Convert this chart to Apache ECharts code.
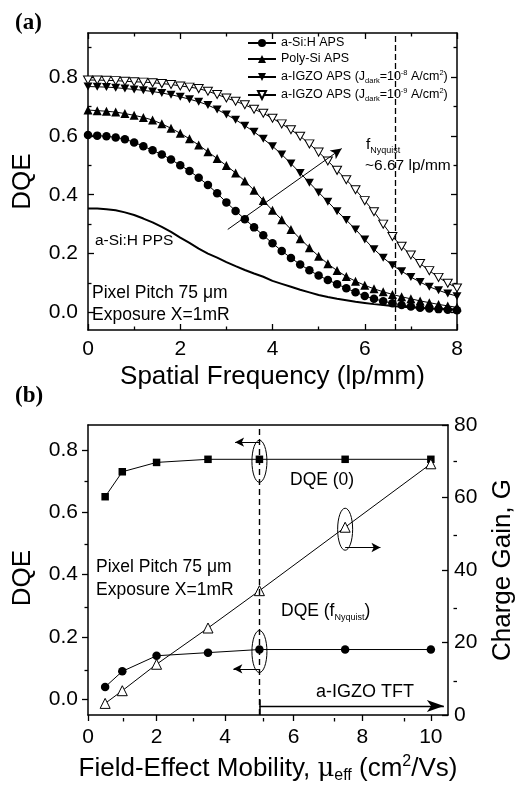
<!DOCTYPE html>
<html>
<head>
<meta charset="utf-8">
<script src="https://cdn.jsdelivr.net/npm/echarts@6/dist/echarts.min.js"></script>
<style>
  html, body { margin: 0; padding: 0; background: #fff; }
  #chart { width: 524px; height: 785px; }
</style>
</head>
<body>
<div id="chart"></div>
<script>
// (a) DQE vs spatial frequency, one marker every 0.2 lp/mm
var freq = [0, 0.2, 0.4, 0.6, 0.8, 1, 1.2, 1.4, 1.6, 1.8, 2, 2.2, 2.4, 2.6, 2.8, 3, 3.2, 3.4, 3.6, 3.8,
  4, 4.2, 4.4, 4.6, 4.8, 5, 5.2, 5.4, 5.6, 5.8, 6, 6.2, 6.4, 6.6, 6.8, 7, 7.2, 7.4, 7.6, 7.8, 8];
var aSiAps = [0.603, 0.601, 0.599, 0.595, 0.589, 0.578, 0.565, 0.551, 0.537, 0.520, 0.500, 0.481, 0.458, 0.433,
  0.405, 0.374, 0.345, 0.317, 0.289, 0.262, 0.235, 0.209, 0.185, 0.163, 0.143, 0.125, 0.110, 0.096, 0.082,
  0.068, 0.056, 0.046, 0.038, 0.031, 0.025, 0.020, 0.016, 0.013, 0.011, 0.009, 0.007];
var polySiAps = [0.688, 0.686, 0.684, 0.681, 0.676, 0.670, 0.663, 0.654, 0.641, 0.626, 0.609, 0.590, 0.569, 0.546,
  0.523, 0.499, 0.474, 0.447, 0.415, 0.380, 0.347, 0.315, 0.282, 0.250, 0.220, 0.191, 0.165, 0.142, 0.122,
  0.106, 0.092, 0.080, 0.070, 0.061, 0.053, 0.046, 0.039, 0.033, 0.027, 0.022, 0.017];
var igzoAps8 = [0.768, 0.767, 0.766, 0.764, 0.761, 0.758, 0.755, 0.751, 0.746, 0.740, 0.733, 0.725, 0.716, 0.705,
  0.690, 0.673, 0.655, 0.635, 0.614, 0.590, 0.565, 0.537, 0.506, 0.474, 0.441, 0.408, 0.376, 0.344, 0.314,
  0.282, 0.248, 0.215, 0.186, 0.160, 0.140, 0.120, 0.103, 0.087, 0.075, 0.064, 0.055];
var igzoAps9 = [0.790, 0.790, 0.789, 0.788, 0.786, 0.784, 0.783, 0.781, 0.778, 0.775, 0.770, 0.766, 0.761, 0.752,
  0.741, 0.729, 0.718, 0.706, 0.691, 0.677, 0.660, 0.641, 0.621, 0.599, 0.573, 0.545, 0.515, 0.483, 0.451,
  0.417, 0.380, 0.342, 0.300, 0.258, 0.225, 0.195, 0.166, 0.142, 0.119, 0.099, 0.083];
var aSiPps = [0.353, 0.353, 0.351, 0.347, 0.340, 0.331, 0.319, 0.306, 0.291, 0.274, 0.254, 0.236, 0.217, 0.200,
  0.186, 0.171, 0.157, 0.144, 0.132, 0.121, 0.107, 0.097, 0.087, 0.077, 0.068, 0.059, 0.052, 0.046, 0.041,
  0.036, 0.032, 0.028, 0.025, 0.022, 0.019, 0.017, 0.015, 0.013, 0.012, 0.011, 0.010];

// (b) DQE and charge gain vs mobility
var mobility = [0.5, 1, 2, 3.5, 5, 7.5, 10];
var dqeZero = [0.65, 0.73, 0.76, 0.77, 0.77, 0.77, 0.77];
var dqeNyq = [0.04, 0.09, 0.14, 0.15, 0.16, 0.16, 0.16];
var chargeGain = [3.2, 6.7, 14, 24, 34.3, 51.8, 69.3];

// tick lists
var xTicksA = [0, 2, 4, 6, 8];
var xMinorA = [1, 3, 5, 7];
var yTicksA = [0, 0.2, 0.4, 0.6, 0.8];
var yMinorA = [0.1, 0.3, 0.5, 0.7, 0.9];
var xTicksB = [0, 2, 4, 6, 8, 10];
var xMinorB = [1, 3, 5, 7, 9];
var yTicksB = [0, 0.2, 0.4, 0.6, 0.8];
var yMinorB = [0.1, 0.3, 0.5, 0.7];
var gainTicks = [0, 20, 40, 60, 80];
var gainMinor = [10, 30, 50, 70];

var FONT = 'Liberation Sans';
var BLACK = '#000';
var downTri = 'path://M0,0L10,0L5,9Z';

function pairs(xs, ys) {
  return xs.map(function (x, i) { return [x, ys[i]]; });
}

// one axis; opts: grid, pos, min, max, ticks, len, inside, labels, line
function axis(o) {
  return {
    type: 'value', gridIndex: o.grid, position: o.pos, min: o.min, max: o.max,
    axisLine: { show: o.line !== false, onZero: false, lineStyle: { color: BLACK, width: 1.5 } },
    axisTick: { show: !!o.ticks, inside: o.inside, length: o.len || 6, customValues: o.ticks,
      lineStyle: { color: BLACK, width: 1.3 } },
    axisLabel: { show: !!o.labels, customValues: o.labels, margin: o.margin || 8, color: BLACK,
      fontSize: 21, fontFamily: FONT, formatter: o.fmt },
    splitLine: { show: false },
    name: o.name, nameLocation: 'middle', nameGap: o.nameGap, nameRotate: o.nameRotate,
    nameTextStyle: o.nameStyle || { color: BLACK, fontSize: 26, fontFamily: FONT, padding: o.namePad || 0 }
  };
}

var fmt1 = function (v) { return v.toFixed(1); };

var xAxes = [
  axis({ grid: 0, pos: 'bottom', min: 0, max: 8, ticks: xTicksA, inside: true, labels: xTicksA, margin: 9,
    name: 'Spatial Frequency (lp/mm)', nameGap: 34 }),
  axis({ grid: 0, pos: 'top', min: 0, max: 8, ticks: xTicksA, inside: true }),
  axis({ grid: 1, pos: 'bottom', min: 0, max: 8, ticks: xMinorA, inside: true, len: 3.5, line: false }),
  axis({ grid: 1, pos: 'top', min: 0, max: 8, ticks: xMinorA, inside: true, len: 3.5, line: false }),
  axis({ grid: 2, pos: 'bottom', min: 0, max: 10.5, ticks: xTicksB, inside: false, labels: xTicksB, margin: 12,
    name: 'Field-Effect Mobility, {mu|μ}{sub|eff} (cm{sup|2}/Vs)', nameGap: 39,
    nameStyle: { color: BLACK, fontSize: 26, fontFamily: FONT, lineHeight: 30,
      rich: {
        mu: { fontSize: 26, fontFamily: 'DejaVu Serif', lineHeight: 30 },
        sub: { fontSize: 16, fontFamily: FONT, verticalAlign: 'bottom', lineHeight: 16 },
        sup: { fontSize: 16, fontFamily: FONT, verticalAlign: 'top', lineHeight: 16 }
      } } }),
  axis({ grid: 2, pos: 'top', min: 0, max: 10.5 }),
  axis({ grid: 3, pos: 'bottom', min: 0, max: 10.5, ticks: xMinorB, inside: false, len: 3.5, line: false })
];

var yAxes = [
  axis({ grid: 0, pos: 'left', min: -0.06, max: 0.95, ticks: yTicksA, inside: true, labels: yTicksA, fmt: fmt1,
    margin: 10, name: 'DQE', nameGap: 52, nameRotate: 90 }),
  axis({ grid: 0, pos: 'right', min: -0.06, max: 0.95, ticks: yTicksA, inside: true }),
  axis({ grid: 1, pos: 'left', min: -0.06, max: 0.95, ticks: yMinorA, inside: true, len: 3.5, line: false }),
  axis({ grid: 1, pos: 'right', min: -0.06, max: 0.95, ticks: yMinorA, inside: true, len: 3.5, line: false }),
  axis({ grid: 2, pos: 'left', min: -0.05, max: 0.88, ticks: yTicksB, inside: false, labels: yTicksB, fmt: fmt1,
    margin: 10, name: 'DQE', nameGap: 52, nameRotate: 90, namePad: [0, 16, 0, 0] }),
  axis({ grid: 2, pos: 'right', min: 0, max: 80, ticks: gainTicks, inside: true, labels: gainTicks,
    margin: 6, name: 'Charge Gain, G', nameGap: 42, nameRotate: 90 }),
  axis({ grid: 3, pos: 'left', min: -0.05, max: 0.88, ticks: yMinorB, inside: false, len: 3.5, line: false }),
  axis({ grid: 3, pos: 'right', min: 0, max: 80, ticks: gainMinor, inside: true, len: 3.5, line: false })
];

function lineSeries(name, data, symbol, size, fill, extra) {
  var s = {
    name: name, type: 'line', data: data, symbol: symbol, symbolSize: size,
    xAxisIndex: 0, yAxisIndex: 0, animation: false, silent: true,
    lineStyle: { color: BLACK, width: 1 },
    itemStyle: { color: fill, borderColor: BLACK, borderWidth: fill === '#fff' ? 1 : 0 }
  };
  for (var k in extra) s[k] = extra[k];
  return s;
}

var arrowLine = function (from, to, size, width) {
  return [{ coord: from, symbol: 'none' }, { coord: to, symbol: 'arrow', symbolSize: size,
    lineStyle: { color: BLACK, width: width || 1, type: 'solid' } }];
};

var series = [
  lineSeries('a-Si:H APS', pairs(freq, aSiAps), 'circle', 8.5, BLACK),
  lineSeries('Poly-Si APS', pairs(freq, polySiAps), 'triangle', 9, BLACK),
  lineSeries('igzo8', pairs(freq, igzoAps8), downTri, [9, 8], BLACK),
  lineSeries('igzo9', pairs(freq, igzoAps9), downTri, [9, 8], '#fff'),
  lineSeries('a-Si:H PPS', pairs(freq, aSiPps), 'none', 0, BLACK, {
    lineStyle: { color: BLACK, width: 2 },
    markLine: {
      silent: true, animation: false, symbol: ['none', 'none'], label: { show: false },
      data: [
        { xAxis: 6.67, lineStyle: { color: BLACK, width: 1.3, type: [6, 3] } },
        arrowLine([3.03, 0.282], [5.5, 0.557], [8, 11], 1)
      ]
    }
  }),
  lineSeries('DQE (0)', pairs(mobility, dqeZero), 'rect', 7.5, BLACK, {
    xAxisIndex: 4, yAxisIndex: 4,
    markLine: {
      silent: true, animation: false, symbol: ['none', 'none'], label: { show: false },
      data: [
        { xAxis: 5, lineStyle: { color: BLACK, width: 1.4, type: [6, 4] } },
        arrowLine([5, 0.825], [4.29, 0.825], [7, 9], 1),
        arrowLine([5, 0.098], [4.24, 0.098], [7, 9], 1),
        arrowLine([5, -0.021], [10.38, -0.021], [9, 17], 1.3),
        [{ coord: [5, 0.0], symbol: 'none', lineStyle: { color: BLACK, width: 1.5, type: 'solid' } },
          { coord: [5, -0.05], symbol: 'none' }]
      ]
    }
  }),
  lineSeries('DQE (fNyquist)', pairs(mobility, dqeNyq), 'circle', 8.5, BLACK, { xAxisIndex: 4, yAxisIndex: 4 }),
  lineSeries('Charge Gain', pairs(mobility, chargeGain), 'triangle', 10, '#fff', {
    xAxisIndex: 4, yAxisIndex: 5,
    markLine: {
      silent: true, animation: false, symbol: ['none', 'none'], label: { show: false },
      data: [arrowLine([7.5, 46.2], [8.53, 46.2], [7, 9], 1)]
    }
  })
];

var legendNames = ['a-Si:H APS', 'Poly-Si APS', 'igzo8', 'igzo9'];
var legendLabels = {
  'a-Si:H APS': '{t|a-Si:H APS}',
  'Poly-Si APS': '{t|Poly-Si APS}',
  'igzo8': '{t|a-IGZO APS (J}{sub|dark}{t|=10}{sup|-8}{t| A/cm}{sup|2}{t|)}',
  'igzo9': '{t|a-IGZO APS (J}{sub|dark}{t|=10}{sup|-9}{t| A/cm}{sup|2}{t|)}'
};
var legendTops = [35, 51, 69, 87];
var legends = legendNames.map(function (n, i) {
  return {
    data: [n], left: 247, top: legendTops[i], orient: 'vertical', padding: 0,
    itemWidth: 28, itemHeight: 10, selectedMode: false,
    formatter: function (name) { return legendLabels[name]; },
    textStyle: {
      color: BLACK, fontFamily: FONT, fontSize: 12.5, lineHeight: 16,
      rich: {
        t: { fontSize: 12.5, fontFamily: FONT, color: BLACK, lineHeight: 16 },
        sub: { fontSize: 7.5, fontFamily: FONT, color: BLACK, verticalAlign: 'bottom', lineHeight: 8 },
        sup: { fontSize: 7.5, fontFamily: FONT, color: BLACK, verticalAlign: 'top', lineHeight: 8 }
      }
    }
  };
});

function txt(x, y, text, size, extra) {
  var st = { text: text, fontSize: size, fontFamily: FONT, fill: BLACK, verticalAlign: 'middle' };
  for (var k in extra) st[k] = extra[k];
  return { type: 'text', x: x, y: y, silent: true, style: st };
}

var subRich = {
  b: { fontSize: 15.5, fontFamily: FONT, fill: BLACK, lineHeight: 20 },
  b2: { fontSize: 17.5, fontFamily: FONT, fill: BLACK, lineHeight: 22 },
  s: { fontSize: 9, fontFamily: FONT, fill: BLACK, verticalAlign: 'bottom', lineHeight: 10 }
};

var texts = [
  txt(15, 23, '(a)', 23, { fontFamily: 'Liberation Serif', fontWeight: 'bold' }),
  txt(15, 396, '(b)', 23, { fontFamily: 'Liberation Serif', fontWeight: 'bold' }),
  txt(95, 241, 'a-Si:H PPS', 15.5),
  txt(92, 293, 'Pixel Pitch 75 μm', 17.5),
  txt(92, 315, 'Exposure X=1mR', 17.5),
  txt(366, 145, '{b|f}{s|Nyquist}', 15.5, { rich: subRich }),
  txt(365, 166, '~6.67 lp/mm', 15.5),
  txt(290, 480, 'DQE (0)', 17.5),
  txt(281, 611, '{b2|DQE (f}{s|Nyquist}{b2|)}', 17.5, { rich: subRich }),
  txt(96, 567, 'Pixel Pitch 75 μm', 17.5),
  txt(96, 590, 'Exposure X=1mR', 17.5),
  txt(316, 692, 'a-IGZO TFT', 18)
];

var chart = echarts.init(document.getElementById('chart'), null, { renderer: 'canvas' });
chart.setOption({
  backgroundColor: '#fff',
  animation: false,
  grid: [
    { left: 88, right: 67, top: 33, height: 297 },
    { left: 88, right: 67, top: 33, height: 297 },
    { left: 88, right: 67, top: 425, height: 293 },
    { left: 88, right: 67, top: 425, height: 293 }
  ],
  legend: legends,
  xAxis: xAxes,
  yAxis: yAxes,
  series: series,
  graphic: texts
});

// ellipses drawn round three data points of (b)
function ring(seriesIndex, pt) {
  var c = chart.convertToPixel({ seriesIndex: seriesIndex }, pt);
  return { type: 'ellipse', silent: true, shape: { cx: c[0], cy: c[1] + 2, rx: 7.5, ry: 21 },
    style: { fill: 'none', stroke: BLACK, lineWidth: 1 } };
}
chart.setOption({
  graphic: texts.concat([
    ring(5, [mobility[4], dqeZero[4]]),
    ring(6, [mobility[4], dqeNyq[4]]),
    ring(7, [mobility[5], chargeGain[5]])
  ])
});
</script>
</body>
</html>
